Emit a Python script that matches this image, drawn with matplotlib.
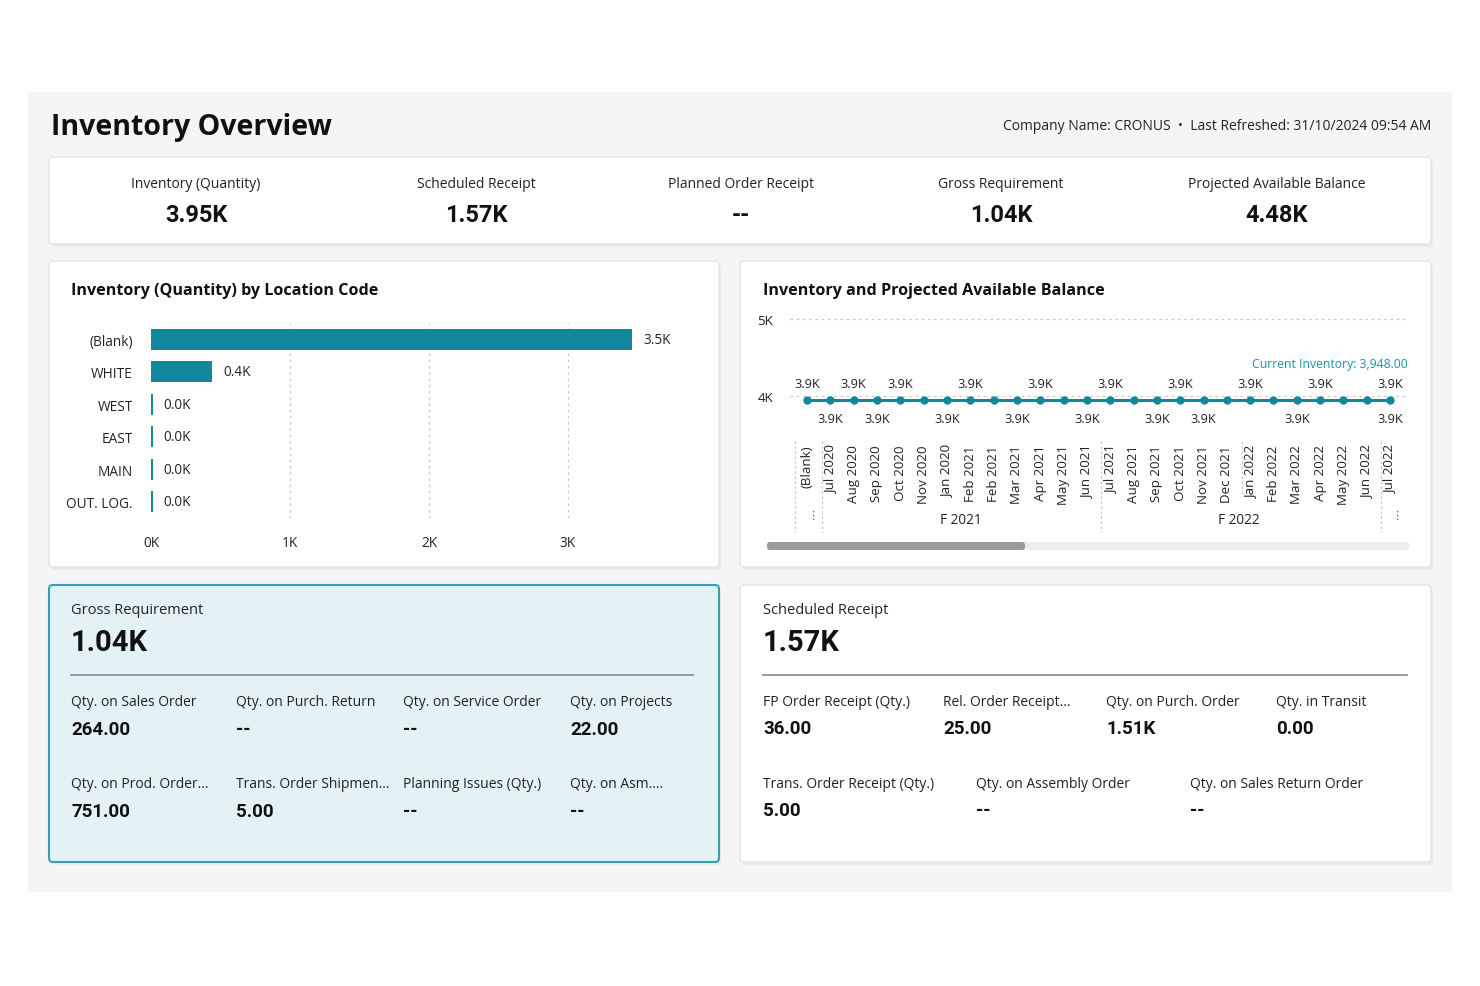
import matplotlib
matplotlib.use("Agg")
import matplotlib.pyplot as plt
from matplotlib.patches import FancyBboxPatch, Rectangle

plt.rcParams['font.family'] = ['Open Sans', 'DejaVu Sans']

W, H = 1480, 987
TEAL = '#13889a'
DARK = '#1f1f1f'

# ---- data ----
kpi_labels = ['Inventory (Quantity)', 'Scheduled Receipt', 'Planned Order Receipt',
              'Gross Requirement', 'Projected Available Balance']
kpi_values = ['3.95K', '1.57K', '--', '1.04K', '4.48K']

locations = ['(Blank)', 'WHITE', 'WEST', 'EAST', 'MAIN', 'OUT. LOG.']
loc_qty = [3460, 440, 12, 12, 12, 12]

periods = ['(Blank)', 'Jul 2020', 'Aug 2020', 'Sep 2020', 'Oct 2020', 'Nov 2020',
           'Jan 2020', 'Feb 2021', 'Feb 2021', 'Mar 2021', 'Apr 2021', 'May 2021',
           'Jun 2021', 'Jul 2021', 'Aug 2021', 'Sep 2021', 'Oct 2021', 'Nov 2021',
           'Dec 2021', 'Jan 2022', 'Feb 2022', 'Mar 2022', 'Apr 2022', 'May 2022',
           'Jun 2022', 'Jul 2022']
balance = [3948, 3948, 3948, 3948, 3948, 3948, 3948, 3948, 3948, 3948, 3948, 3948, 3948,
           3948, 3948, 3948, 3948, 3948, 3948, 3948, 3948, 3948, 3948, 3948, 3948, 3948]
current_inventory = 3948.00
labels_above = [0, 2, 4, 7, 10, 13, 16, 19, 22, 25]
labels_below = [1, 3, 6, 9, 12, 15, 17, 21, 25]

gross_total = '1.04K'
gross_labels = ['Qty. on Sales Order', 'Qty. on Purch. Return', 'Qty. on Service Order', 'Qty. on Projects',
                'Qty. on Prod. Order...', 'Trans. Order Shipmen...', 'Planning Issues (Qty.)', 'Qty. on Asm....']
gross_values = ['264.00', '--', '--', '22.00', '751.00', '5.00', '--', '--']

sched_total = '1.57K'
sched_labels = ['FP Order Receipt (Qty.)', 'Rel. Order Receipt...', 'Qty. on Purch. Order', 'Qty. in Transit',
                'Trans. Order Receipt (Qty.)', 'Qty. on Assembly Order', 'Qty. on Sales Return Order']
sched_values = ['36.00', '25.00', '1.51K', '0.00', '5.00', '--', '--']


def fmt_k(v):
    return f"{v / 1000:.1f}K"


fig = plt.figure(figsize=(W / 100, H / 100), dpi=100)
fig.patch.set_facecolor('white')

# background axes in pixel coordinates (y down)
bg = fig.add_axes([0, 0, 1, 1])
bg.set_xlim(0, W)
bg.set_ylim(H, 0)
bg.axis('off')


def card(x0, y0, x1, y1, fc='white', ec='#e2e3e6', lw=1.0):
    bg.add_patch(FancyBboxPatch((x0 + 2, y0 + 3), x1 - x0, y1 - y0,
                                boxstyle='round,pad=0,rounding_size=4',
                                fc='#e9eaed', ec='none', zorder=1))
    bg.add_patch(FancyBboxPatch((x0, y0), x1 - x0, y1 - y0,
                                boxstyle='round,pad=0,rounding_size=4',
                                fc=fc, ec=ec, lw=lw, zorder=2))


bg.add_patch(Rectangle((28, 93), 1424, 800, fc='#f4f5f7', ec='none', zorder=0))

bg.text(51, 127, 'Inventory Overview', fontsize=20.5, fontweight='bold', color='#111111',
        va='center', ha='left', zorder=5)
bg.text(1431, 127, 'Company Name: CRONUS  \u2022  Last Refreshed: 31/10/2024 09:54 AM',
        fontsize=10, color='#222222', va='center', ha='right', zorder=5)

# KPI strip
card(49, 158, 1431, 245)
kpi_x = [196, 476, 741, 1001, 1277]
for x, lab, val in zip(kpi_x, kpi_labels, kpi_values):
    bg.text(x, 184, lab, fontsize=10, color='#222222', ha='center', va='center', zorder=5)
    bg.text(x, 216, val, fontsize=17, fontweight='bold', color='#111111',
            ha='center', va='center', family=['Roboto', 'DejaVu Sans'], zorder=5)

# chart cards
card(49, 262, 719, 568)
card(740, 262, 1431, 568)
bg.text(71, 291, 'Inventory (Quantity) by Location Code', fontsize=11.6, fontweight='bold',
        color='#111111', va='center', zorder=5)
bg.text(763, 291, 'Inventory and Projected Available Balance', fontsize=11.6, fontweight='bold',
        color='#111111', va='center', zorder=5)

# ---- bar chart ----
bx0, bx1, by0, by1 = 151, 690, 324, 519
axb = fig.add_axes([bx0 / W, 1 - by1 / H, (bx1 - bx0) / W, (by1 - by0) / H])
axb.set_facecolor('none')
ypos = list(range(len(locations)))
axb.barh(ypos, loc_qty, height=0.65, color=TEAL, zorder=3)
axb.set_ylim(len(locations) - 0.5, -0.5)
axb.set_xlim(0, (bx1 - bx0) / 139.0 * 1000)
axb.set_yticks(ypos, locations)
axb.set_xticks([0, 1000, 2000, 3000], ['0K', '1K', '2K', '3K'])
for v in [1000, 2000, 3000]:
    axb.axvline(v, color='#c8c8c8', lw=0.9, ls=(0, (2, 3)), zorder=1)
for y, v in zip(ypos, loc_qty):
    axb.text(v + 80, y, fmt_k(v), fontsize=9.8, color='#222222', va='center', ha='left')
for s in axb.spines.values():
    s.set_visible(False)
axb.tick_params(axis='both', length=0, labelsize=9.8, labelcolor='#222222')
axb.tick_params(axis='y', pad=13)
axb.tick_params(axis='x', pad=12)

# ---- line chart ----
lx0, lx1, ly0, ly1 = 790, 1409, 310, 430
axl = fig.add_axes([lx0 / W, 1 - ly1 / H, (lx1 - lx0) / W, (ly1 - ly0) / H])
axl.set_facecolor('none')
n = len(periods)
xs = list(range(n))
axl.set_xlim(-0.73, 25.81)
axl.set_ylim(3571, 5130)
for v in [4000, 5000]:
    axl.axhline(v, color='#c8c8c8', lw=0.9, ls=(0, (2, 3)), zorder=1)
axl.plot(xs, balance, color=TEAL, lw=2.2, marker='o', ms=5, zorder=4)
axl.text(25.75, current_inventory + 480, f'Current Inventory: {current_inventory:,.2f}',
         fontsize=8.8, color='#1a93a6', ha='right', va='center')
for i in labels_above:
    axl.text(xs[i], balance[i] + 220, fmt_k(balance[i]), fontsize=9.2, color='#222222',
             ha='center', va='center')
for i in labels_below:
    axl.text(xs[i], balance[i] - 240, fmt_k(balance[i]), fontsize=9.2, color='#222222',
             ha='center', va='center')
axl.set_yticks([4000, 5000], ['4K', '5K'])
axl.set_xticks(xs, periods, rotation=90)
for t in axl.get_xticklabels():
    t.set_va('top')
for s in axl.spines.values():
    s.set_visible(False)
axl.tick_params(axis='both', length=0, labelsize=9.6, labelcolor='#222222')
axl.tick_params(axis='y', pad=12)
axl.tick_params(axis='x', pad=11)

# hierarchy separators and group labels
for sx in [795, 822, 1101, 1381]:
    bg.plot([sx, sx], [442, 533], color='#c8c8c8', lw=0.9, ls=(0, (2, 2)), zorder=5)
bg.plot([1242, 1242], [442, 498], color='#c8c8c8', lw=0.9, ls=(0, (2, 2)), zorder=5)
bg.text(961, 521, 'F 2021', fontsize=9.8, color='#222222', ha='center', va='center', zorder=5)
bg.text(1239, 521, 'F 2022', fontsize=9.8, color='#222222', ha='center', va='center', zorder=5)
bg.text(813, 516, '\u22ee', fontsize=8, color='#555555', ha='center', va='center',
        family=['DejaVu Sans'], zorder=5)
bg.text(1397, 516, '\u22ee', fontsize=8, color='#555555', ha='center', va='center',
        family=['DejaVu Sans'], zorder=5)

# scrollbar
bg.add_patch(FancyBboxPatch((767, 543), 642, 8, boxstyle='round,pad=0,rounding_size=3',
                            fc='#ececec', ec='none', zorder=5))
bg.add_patch(FancyBboxPatch((767, 543), 258, 8, boxstyle='round,pad=0,rounding_size=3',
                            fc='#9a9a9a', ec='none', zorder=6))

# ---- detail cards ----
card(49, 586, 719, 863, fc='#e4f2f6', ec='#3a9fae', lw=1.5)
card(740, 586, 1431, 863)


def detail(x, title, total, labels, values, rule_x1, cols1, cols2, rows):
    bg.text(x, 611, title, fontsize=10.5, color='#222222', va='center', zorder=5)
    bg.text(x, 643, total, fontsize=21, fontweight='bold', color='#111111', va='center',
            family=['Roboto', 'DejaVu Sans'], zorder=5)
    bg.plot([x, rule_x1], [676, 676], color='#8f9396', lw=1.3, zorder=5)
    cols = cols1 + cols2
    row_y = [rows[0]] * len(cols1) + [rows[1]] * len(cols2)
    for cx, ry, lab, val in zip(cols, row_y, labels, values):
        bg.text(cx, ry, lab, fontsize=10, color='#222222', va='center', zorder=5)
        bg.text(cx, ry + 27, val, fontsize=13.5, fontweight='bold', color='#111111', va='center',
                family=['Roboto', 'DejaVu Sans'], zorder=5)


detail(71, 'Gross Requirement', gross_total, gross_labels, gross_values, 693,
       [71, 236, 403, 570], [71, 236, 403, 570], (703, 785))
detail(763, 'Scheduled Receipt', sched_total, sched_labels, sched_values, 1407,
       [763, 943, 1106, 1276], [763, 976, 1190], (702, 784))

fig.savefig('out.png', dpi=100, facecolor='white')
